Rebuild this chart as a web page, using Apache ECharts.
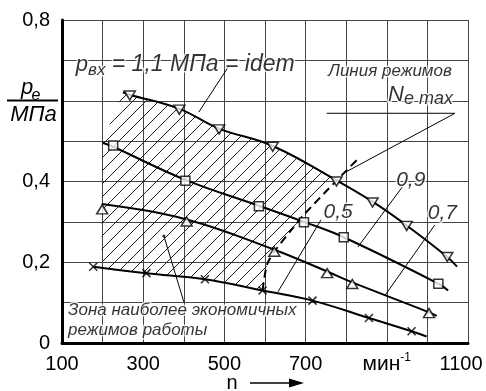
<!DOCTYPE html>
<html>
<head>
<meta charset="utf-8">
<script src="https://cdn.jsdelivr.net/npm/echarts@6.0.0/dist/echarts.min.js"></script>
<style>
html,body{margin:0;padding:0;background:#fff;}
#chart{width:486px;height:391px;}
</style>
</head>
<body>
<div id="chart"></div>
<script>
// ---------------- data ----------------
const xTickValues = [100, 300, 500, 700, 900, 1100];
const xTickTexts  = ['100', '300', '500', '700', 'мин^-1', '1100'];
const yTickValues = [0, 0.2, 0.4, 0.8];
const yTickTexts  = ['0', '0,2', '0,4', '0,8'];

// ▽ measured points and fitted curve
const tdN = [267, 389, 487, 619, 776, 865, 949, 1049];
const tdP = [0.613, 0.578, 0.529, 0.486, 0.400, 0.348, 0.290, 0.213];
const tdCurveN = [250, 267, 389, 487, 619, 776, 865, 949, 1049, 1073];
const tdCurveP = [0.621, 0.615, 0.580, 0.531, 0.488, 0.403, 0.350, 0.291, 0.213, 0.189];

// □
const sqN = [226, 404, 585, 696, 794, 1027];
const sqP = [0.489, 0.402, 0.339, 0.299, 0.262, 0.147];
const sqCurveN = [200, 226, 404, 585, 696, 794, 1027, 1051];
const sqCurveP = [0.496, 0.486, 0.404, 0.340, 0.300, 0.262, 0.147, 0.130];

// △
const tuN = [199, 407, 623, 753, 815, 1004];
const tuP = [0.331, 0.301, 0.226, 0.173, 0.146, 0.074];
const tuCurveN = [198, 407, 623, 753, 815, 1004, 1023];
const tuCurveP = [0.344, 0.306, 0.231, 0.177, 0.150, 0.076, 0.067];

// ×
const xxN = [177, 308, 452, 594, 717, 856, 961];
const xxP = [0.189, 0.173, 0.158, 0.130, 0.105, 0.062, 0.029];
const xxCurveN = [177, 308, 452, 594, 717, 856, 961, 998];
const xxCurveP = [0.189, 0.173, 0.158, 0.130, 0.105, 0.062, 0.029, 0.016];

// dashed line of N_e max regimes
const dashN = [594, 605, 623, 669, 696, 776, 834];
const dashP = [0.130, 0.194, 0.226, 0.285, 0.318, 0.402, 0.461];

// hatched zone outline
const zoneN = [250, 267, 389, 487, 619, 776, 696, 669, 623, 605, 594, 452, 308, 197, 199];
const zoneP = [0.621, 0.615, 0.580, 0.531, 0.488, 0.403, 0.318, 0.285, 0.226, 0.194, 0.130, 0.158, 0.173, 0.187, 0.496];

// thin lines 0,5 / 0,9 / 0,7
const line05N = [738, 632], line05P = [0.305, 0.127];
const line09N = [940, 829], line09P = [0.389, 0.238];
const line07N = [1018, 895], line07P = [0.292, 0.117];

// leader lines
const pLeaderN = [437, 511], pLeaderP = [0.572, 0.686];
const zoneLeaderN = [351, 400], zoneLeaderP = [0.265, 0.102];
const neLeaderN = [752, 1068, 799], neLeaderP = [0.569, 0.569, 0.4235];

// annotation anchors (data units) and texts
const noteTop = [134, 0.689];
const noteLine = [908, 0.672];
const noteNe = [903, 0.615];
const noteZone = [115, 0.0565];
const isoLabels = ['0,5', '0,9', '0,7'];
const isoLabelN = [780, 959, 1037];
const isoLabelP = [0.325, 0.404, 0.321];

// ---------------- drawing ----------------
const FF = '"Liberation Sans", Arial, Helvetica, sans-serif';
function pts(ns, ps) { return ns.map((n, i) => [n, ps[i]]); }

function makeHatch(s) {
  const c = document.createElement('canvas');
  c.width = s; c.height = s;
  const g = c.getContext('2d');
  g.strokeStyle = '#1e1e1e'; g.lineWidth = 1;
  g.beginPath();
  g.moveTo(-2, s + 2); g.lineTo(s + 2, -2);
  g.moveTo(-2, 2); g.lineTo(2, -2);
  g.moveTo(s - 2, s + 2); g.lineTo(s + 2, s - 2);
  g.stroke();
  return c;
}
const hatch = makeHatch(13);

const halo = { textBorderColor: '#fff', textBorderWidth: 3 };
function it(size, extra) {
  return Object.assign({ fontSize: size, fontStyle: 'italic', fontFamily: FF, color: '#000' }, halo, extra || {});
}

const curveStyle = { color: '#000', width: 2 };
function curve(ns, ps) {
  return { type: 'line', data: pts(ns, ps), smooth: 0.4, symbol: 'none', silent: true, z: 4, lineStyle: curveStyle };
}
function thin(ns, ps) {
  return { type: 'line', data: pts(ns, ps), symbol: 'none', silent: true, z: 3, lineStyle: { color: '#000', width: 1 } };
}
const mk = { color: '#fff', borderColor: '#000', borderWidth: 1.5 };

const chart = echarts.init(document.getElementById('chart'), null, { renderer: 'canvas', width: 486, height: 391 });

chart.setOption({
  animation: false,
  backgroundColor: '#fff',
  grid: { left: 62, right: 18, top: 20, bottom: 48, containLabel: false, outerBoundsMode: 'none' },
  xAxis: {
    type: 'value', min: 100, max: 1100, interval: 100,
    axisLine: { show: true, onZero: false, lineStyle: { color: '#000', width: 3 } },
    axisTick: { show: false },
    splitLine: { show: true, lineStyle: { color: '#444', width: 1 } },
    axisLabel: {
      show: true, margin: 9, hideOverlap: false, showMinLabel: true, showMaxLabel: true,
      color: '#000', fontFamily: FF, fontSize: 20, lineHeight: 24,
      formatter: function (v) {
        const i = xTickValues.findIndex(t => Math.abs(t - v) < 1e-6);
        if (i < 0) return '';
        const t = xTickTexts[i];
        if (t.indexOf('^') >= 0) {
          const parts = t.split('^');
          return '{u|' + parts[0] + '}{sup|' + parts[1] + '}';
        }
        if (i === xTickValues.length - 1) return '{last|' + t + '}';
        return '{d|' + t + '}';
      },
      rich: {
        d: { fontSize: 20, lineHeight: 24, fontFamily: FF, color: '#000' },
        u: { fontSize: 21, lineHeight: 24, fontFamily: FF, color: '#000' },
        sup: { fontSize: 12, lineHeight: 8, verticalAlign: 'top', fontFamily: FF, color: '#000' },
        last: { fontSize: 20, lineHeight: 24, fontFamily: FF, color: '#000', padding: [0, 14, 0, 0] }
      }
    }
  },
  yAxis: {
    type: 'value', min: 0, max: 0.8, interval: 0.1,
    axisLine: { show: true, onZero: false, lineStyle: { color: '#000', width: 3 } },
    axisTick: { show: false },
    splitLine: { show: true, lineStyle: { color: '#444', width: 1 } },
    axisLabel: {
      show: true, margin: 12, hideOverlap: false, showMinLabel: true, showMaxLabel: true,
      color: '#000', fontFamily: FF, fontSize: 20,
      formatter: function (v) {
        const i = yTickValues.findIndex(t => Math.abs(t - v) < 1e-6);
        return i < 0 ? '' : yTickTexts[i];
      }
    }
  },
  graphic: [
    { type: 'text', x: 27, y: 88, style: { text: 'p', font: 'italic 22px ' + FF, fill: '#000', align: 'center', verticalAlign: 'middle' } },
    { type: 'text', x: 36, y: 96, style: { text: 'e', font: 'italic 16px ' + FF, fill: '#000', align: 'center', verticalAlign: 'middle' } },
    { type: 'line', shape: { x1: 7, y1: 100.5, x2: 58, y2: 100.5 }, style: { stroke: '#000', lineWidth: 2 } },
    { type: 'text', x: 33.5, y: 115, style: { text: 'МПа', font: 'italic 22px ' + FF, fill: '#000', align: 'center', verticalAlign: 'middle' } },
    { type: 'text', x: 232, y: 383, style: { text: 'n', font: '20px ' + FF, fill: '#000', align: 'center', verticalAlign: 'middle' } },
    { type: 'line', shape: { x1: 250, y1: 383, x2: 292, y2: 383 }, style: { stroke: '#000', lineWidth: 1.5 } },
    { type: 'polygon', shape: { points: [[304, 383], [289, 378.5], [289, 387.5]] }, style: { fill: '#000' } }
  ],
  series: [
    {
      type: 'custom', silent: true, z: 1,
      data: [[zoneN[0], zoneP[0]]],
      renderItem: function (params, api) {
        const points = zoneN.map((n, i) => api.coord([n, zoneP[i]]));
        return { type: 'polygon', shape: { points: points }, style: { fill: { image: hatch, repeat: 'repeat' }, stroke: null } };
      }
    },
    thin(line05N, line05P),
    thin(line09N, line09P),
    thin(line07N, line07P),
    thin(pLeaderN, pLeaderP),
    thin(zoneLeaderN, zoneLeaderP),
    thin(neLeaderN, neLeaderP),
    { type: 'scatter', data: [[zoneLeaderN[0], zoneLeaderP[0]]], symbol: 'circle', symbolSize: 3, silent: true, z: 3, itemStyle: { color: '#000' } },
    { type: 'line', data: pts(dashN, dashP), smooth: 0.3, symbol: 'none', silent: true, z: 4, lineStyle: { color: '#000', width: 2, type: [8, 5] } },
    curve(tdCurveN, tdCurveP),
    curve(sqCurveN, sqCurveP),
    curve(tuCurveN, tuCurveP),
    curve(xxCurveN, xxCurveP),
    { type: 'scatter', data: pts(tdN, tdP), symbol: 'triangle', symbolRotate: 180, symbolSize: [11, 9], silent: true, z: 5, itemStyle: mk },
    { type: 'scatter', data: pts(sqN, sqP), symbol: 'rect', symbolSize: 9, silent: true, z: 5, itemStyle: mk },
    { type: 'scatter', data: pts(tuN, tuP), symbol: 'triangle', symbolSize: [11, 9], silent: true, z: 5, itemStyle: mk },
    { type: 'scatter', data: pts(xxN, xxP), symbol: 'path://M0,0L10,10M0,10L10,0', symbolSize: 8, silent: true, z: 5,
      itemStyle: { color: 'rgba(0,0,0,0)', borderColor: '#000', borderWidth: 1.6 } },
    {
      type: 'scatter', symbolSize: 0, silent: true, z: 10, itemStyle: { color: 'rgba(0,0,0,0)' },
      data: [
        { value: noteTop, label: { show: true, position: 'right', distance: 0,
            formatter: '{p|p}{s|вх}{t| = 1,1 МПа = idem}',
            rich: { p: it(22, { lineHeight: 28 }), s: it(17, { lineHeight: 12, verticalAlign: 'bottom' }), t: it(23, { lineHeight: 28 }) } } },
        { value: noteLine, label: Object.assign({ show: true, position: [0, 0], align: 'center', verticalAlign: 'middle', formatter: 'Линия режимов' }, it(17)) },
        { value: noteNe, label: { show: true, position: 'right', distance: 0,
            formatter: '{n|N}{s|e max}',
            rich: { n: it(22, { lineHeight: 26 }), s: it(18, { lineHeight: 14, verticalAlign: 'bottom' }) } } },
        { value: noteZone, label: Object.assign({ show: true, position: 'right', distance: 0, lineHeight: 20,
            formatter: 'Зона наиболее экономичных\nрежимов работы' }, it(17)) },
        ...isoLabels.map((t, i) => ({ value: [isoLabelN[i], isoLabelP[i]],
            label: Object.assign({ show: true, position: [0, 0], align: 'center', verticalAlign: 'middle', formatter: t }, it(21)) }))
      ]
    }
  ]
});
</script>
</body>
</html>
